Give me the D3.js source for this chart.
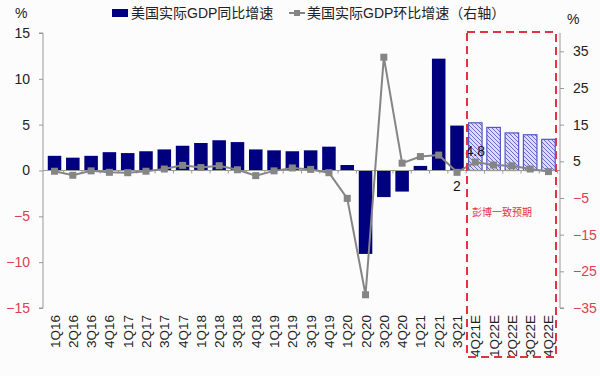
<!DOCTYPE html>
<html>
<head>
<meta charset="utf-8">
<script src="https://cdn.jsdelivr.net/npm/d3@7"></script>
<style>
body{margin:0;background:#fcfcfd;}
text{font-family:"Liberation Sans","Noto Sans CJK SC",sans-serif;}
</style>
</head>
<body>
<script>
// quarters, actual + consensus forecast
const quarters=["1Q16","2Q16","3Q16","4Q16","1Q17","2Q17","3Q17","4Q17","1Q18","2Q18","3Q18","4Q18",
  "1Q19","2Q19","3Q19","4Q19","1Q20","2Q20","3Q20","4Q20","1Q21","2Q21","3Q21",
  "4Q21E","1Q22E","2Q22E","3Q22E","4Q22E"]
const yoy=[1.6,1.4,1.6,2.0,1.9,2.1,2.3,2.7,3.0,3.3,3.1,2.3,2.2,2.1,2.2,2.6,0.6,-9.1,-2.9,-2.3,0.5,12.2,4.9,5.2,4.7,4.1,3.9,3.4]
const qoq=[2.3,1.2,2.4,2.0,1.9,2.3,2.9,3.9,3.3,3.8,2.7,1.1,2.4,3.2,2.8,1.9,-5.1,-31.4,33.4,4.5,6.3,6.7,2.0,4.8,4.0,3.8,2.9,2.2]
const leftTicks=[15,10,5,0,-5,-10,-15]
const rightTicks=[35,25,15,5,-5,-15,-25,-35]
const forecastFrom=23

const svg=d3.select("body").append("svg")
  .attr("width",600).attr("height",376)

const defs=svg.append("defs")
const pat=defs.append("pattern")
  .attr("id","hatch").attr("patternUnits","userSpaceOnUse")
  .attr("width",4).attr("height",4)
pat.append("rect").attr("width",4).attr("height",4).attr("fill","#dcdcf4")
pat.append("path").attr("d","M-1,-1 L5,5 M-1,3 L1,5 M3,-1 L5,1")
  .attr("stroke","#6a6ad0").attr("stroke-width",1)

const x=d3.scaleBand().domain(quarters).range([43,560]).padding(0.26)
const yL=d3.scaleLinear().domain([-15,15]).range([308,33])
const yR=d3.scaleLinear().domain([-35,40]).range([308,33])

const negRed="#d9434b"

// left axis
const gl=svg.append("g").attr("transform","translate(43,0)")
  .call(d3.axisLeft(yL).tickValues(leftTicks).tickSize(4).tickPadding(9))
gl.select(".domain").attr("stroke","#999").attr("d","M-4,33H0V308H-4")
gl.selectAll(".tick line").attr("stroke","#999")
gl.selectAll(".tick text").attr("font-size",14)
  .attr("fill",d=>d<0?negRed:"#222")

// right axis
const gr=svg.append("g").attr("transform","translate(560,0)")
  .call(d3.axisRight(yR).tickValues(rightTicks).tickSize(4).tickPadding(9))
gr.select(".domain").attr("stroke","#999").attr("d","M0,33V308H4")
gr.selectAll(".tick line").attr("stroke","#999")
gr.selectAll(".tick text").attr("font-size",14)
  .attr("fill",d=>d<0?negRed:"#222")

// bars
svg.append("g").selectAll("rect")
  .data(quarters)
  .join("rect")
  .attr("x",d=>x(d))
  .attr("width",x.bandwidth())
  .attr("y",(d,i)=>yL(Math.max(0,yoy[i])))
  .attr("height",(d,i)=>Math.abs(yL(yoy[i])-yL(0)))
  .attr("fill",(d,i)=>i>=forecastFrom?"url(#hatch)":"#00007e")
  .attr("stroke",(d,i)=>i>=forecastFrom?"#5555c8":"none")
  .attr("stroke-width",1.2)

// zero baseline
const gx=svg.append("g").attr("transform",`translate(0,${yL(0)})`)
  .call(d3.axisBottom(x).tickSize(3).tickFormat(""))
gx.select(".domain").attr("stroke","#999").attr("d","M43,0H560")
gx.selectAll(".tick line").attr("stroke","#999")
  .attr("transform",`translate(${x.step()/2},0)`)

// category labels
svg.append("g").selectAll("text")
  .data(quarters)
  .join("text")
  .attr("transform",d=>`translate(${x(d)+x.bandwidth()/2+5},315) rotate(-90)`)
  .attr("text-anchor","end")
  .attr("font-size",13.5)
  .attr("fill","#222")
  .text(d=>d)

// qoq line
const line=d3.line().x((d,i)=>x(quarters[i])+x.bandwidth()/2).y(d=>yR(d))
svg.append("path").datum(qoq)
  .attr("d",line).attr("fill","none")
  .attr("stroke","#858585").attr("stroke-width",2)
svg.append("g").selectAll("rect")
  .data(qoq)
  .join("rect")
  .attr("x",(d,i)=>x(quarters[i])+x.bandwidth()/2-3.5)
  .attr("y",d=>yR(d)-3.5)
  .attr("width",7).attr("height",7)
  .attr("fill","#858585")

// data labels
svg.append("text")
  .attr("x",x("3Q21")+x.bandwidth()/2).attr("y",yR(qoq[22])+19)
  .attr("text-anchor","middle").attr("font-size",14).attr("fill","#111")
  .text("2")
svg.append("text")
  .attr("x",x("4Q21E")+x.bandwidth()/2).attr("y",yR(qoq[23])-6)
  .attr("text-anchor","middle").attr("font-size",14).attr("fill","#111")
  .text("4.8")

// forecast box
svg.append("rect")
  .attr("x",467).attr("y",32).attr("width",89).attr("height",325)
  .attr("fill","none").attr("stroke","#e33240").attr("stroke-width",2)
  .attr("stroke-dasharray","8,5")
svg.append("text")
  .attr("x",472).attr("y",216)
  .attr("font-size",10).attr("fill","#e33240")
  .text("彭博一致预期")

// units
svg.append("text").attr("x",15).attr("y",18).attr("font-size",14).attr("fill","#222").text("%")
svg.append("text").attr("x",567).attr("y",24).attr("font-size",14).attr("fill","#222").text("%")

// legend
svg.append("rect").attr("x",112).attr("y",9).attr("width",16).attr("height",8).attr("fill","#00007e")
svg.append("text").attr("x",131).attr("y",18).attr("font-size",14).attr("fill","#222")
  .text("美国实际GDP同比增速")
svg.append("line").attr("x1",289).attr("x2",305).attr("y1",13).attr("y2",13)
  .attr("stroke","#858585").attr("stroke-width",2)
svg.append("rect").attr("x",294).attr("y",10).attr("width",6).attr("height",6).attr("fill","#858585")
svg.append("text").attr("x",307).attr("y",18).attr("font-size",14).attr("fill","#222")
  .text("美国实际GDP环比增速（右轴）")
</script>
</body>
</html>
